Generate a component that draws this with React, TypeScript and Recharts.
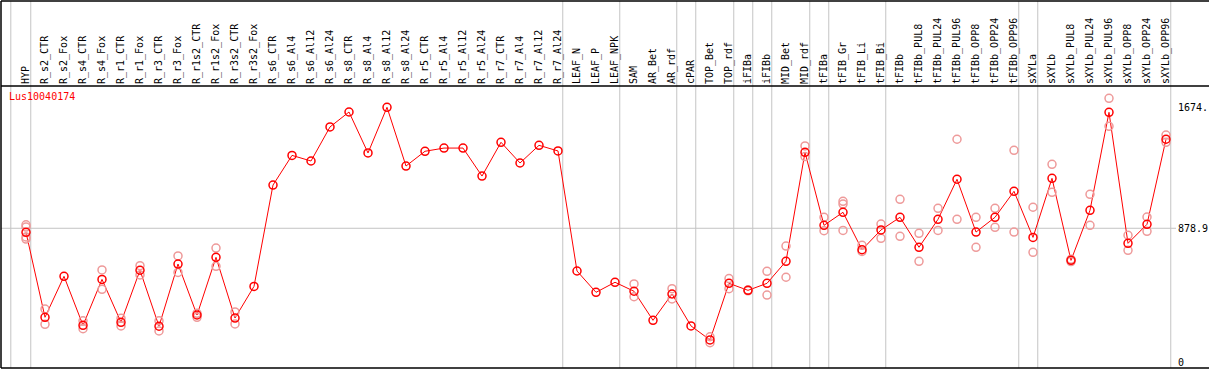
import { ComposedChart, Line, Scatter, XAxis, YAxis, ReferenceLine } from "recharts";

const title = "Lus10040174";

const categories = [
  "HYP",
  "R_s2_CTR", "R_s2_Fox", "R_s4_CTR", "R_s4_Fox", "R_r1_CTR", "R_r1_Fox", "R_r3_CTR", "R_r3_Fox",
  "R_r1s2_CTR", "R_r1s2_Fox", "R_r3s2_CTR", "R_r3s2_Fox",
  "R_s6_CTR", "R_s6_Al4", "R_s6_Al12", "R_s6_Al24",
  "R_s8_CTR", "R_s8_Al4", "R_s8_Al12", "R_s8_Al24",
  "R_r5_CTR", "R_r5_Al4", "R_r5_Al12", "R_r5_Al24",
  "R_r7_CTR", "R_r7_Al4", "R_r7_Al12", "R_r7_Al24",
  "LEAF_N", "LEAF_P", "LEAF_NPK",
  "SAM", "AR_Bet", "AR_rdf",
  "cPAR",
  "TOP_Bet", "TOP_rdf",
  "iFIBa",
  "iFIBb",
  "MID_Bet", "MID_rdf",
  "tFIBa",
  "tFIB_Gr", "tFIB_Li", "tFIB_Bi",
  "tFIBb", "tFIBb_PUL8", "tFIBb_PUL24", "tFIBb_PUL96", "tFIBb_OPP8", "tFIBb_OPP24", "tFIBb_OPP96",
  "sXYLa",
  "sXYLb", "sXYLb_PUL8", "sXYLb_PUL24", "sXYLb_PUL96", "sXYLb_OPP8", "sXYLb_OPP24", "sXYLb_OPP96",
];

// mean expression per sample
const means = [
  852,
  294, 563, 241, 543, 261, 603, 235, 644,
  309, 688, 289, 497,
  1163, 1358, 1321, 1545,
  1643, 1374, 1674, 1288,
  1385, 1406, 1406, 1222,
  1444, 1308, 1424, 1387,
  598, 458, 524,
  465, 274, 447,
  237,
  145, 517,
  471,
  517,
  662, 1378,
  898,
  984, 738, 868,
  951, 754, 938, 1201, 854, 951, 1122,
  819,
  1207, 668, 997, 1641, 780, 905, 1464,
];

// individual replicates (null = not shown)
const repA = [
  902,
  348, null, 271, 605, 287, 633, 271, 697,
  320, 749, 329, null,
  null, null, null, null,
  null, null, null, null,
  null, null, null, null,
  null, null, null, null,
  null, null, null,
  513, null, 482,
  null,
  166, 548,
  474,
  596,
  762, 1420,
  951,
  1056, 767, 907,
  1069, 846, 1010, 1464, 951, 1010, 1391,
  1017,
  1299, 675, 1102, 1733, 833, 953, 1492,
];

const repB = [
  808,
  248, null, 219, 478, 237, 572, 204, 589,
  294, 629, 250, null,
  null, null, null, null,
  null, null, null, null,
  null, null, null, null,
  null, null, null, null,
  null, null, null,
  429, null, 414,
  null,
  127, 482,
  468,
  440,
  557, 1350,
  863,
  865, 727, 813,
  826, 662, 865, 938, 754, 885, 854,
  721,
  1115, 660, 898, 1549, 734, 859, 1444,
];

const repC = [
  887,
  null, null, null, null, null, null, null, null,
  null, null, null, null,
  null, null, null, null,
  null, null, null, null,
  null, null, null, null,
  null, null, null, null,
  null, null, null,
  null, null, null,
  null,
  null, null,
  null,
  null,
  null, null,
  null,
  1038, null, null,
  null, null, null, null, null, null, null,
  null,
  null, null, null, null, null, null, null,
];

const repD = [822];

// number of samples in each block between grey separators
const groupSizes = [1, 28, 3, 3, 1, 2, 1, 1, 2, 1, 3, 7, 1, 7];

const yTicks = [0, 878.9, 1674];
const yTickLabels = ["0", "878.9", "1674."];

const X_DOMAIN: [number, number] = [-1.316, 60.526];
const Y_DOMAIN: [number, number] = [-39.4, 2372.6];
const HEADER_RULE = 1814;
const X_PAGE_END = 62.3;

const FONT = "'DejaVu Sans Mono', monospace";

const meanData = categories.map((name, i) => ({ x: i, y: means[i], name }));
const repData = [repA, repB, repC, repD].flatMap((reps) =>
  reps.map((v, i) => ({ x: i, y: v })).filter((d) => d.y !== null && d.y !== undefined)
);

const separators: number[] = [-0.8];
groupSizes.reduce((acc, size) => {
  const end = acc + size;
  separators.push(end - 1 + 0.25);
  return end;
}, 0);

function CategoryTick(props: any) {
  const { x, payload } = props;
  return (
    <text
      transform={`translate(${Math.round(x) + 3},84) rotate(-90)`}
      fontFamily={FONT}
      fontSize={10}
      fill="#000"
      textAnchor="start"
    >
      {categories[payload.value]}
    </text>
  );
}

function ValueTick(props: any) {
  const { x, y, index } = props;
  return (
    <text x={x} y={y} dy={3.5} fontFamily={FONT} fontSize={10} fill="#000" textAnchor="start">
      {yTickLabels[index]}
    </text>
  );
}

const renderRep = (p: any) => (
  <circle cx={p.cx} cy={p.cy} r={4} fill="none" stroke="#ee9a9a" strokeWidth={1.5} />
);

export default function App() {
  return (
    <div style={{ position: "absolute", left: 0, top: 0, width: 1209, height: 370, background: "#fff" }}>
      <ComposedChart width={1209} height={370} margin={{ top: 0, right: 0, bottom: 2, left: 1 }}>
        <XAxis
          type="number"
          dataKey="x"
          domain={X_DOMAIN}
          allowDataOverflow
          orientation="top"
          height={1}
          ticks={categories.map((_, i) => i)}
          interval={0}
          axisLine={false}
          tickLine={false}
          tick={<CategoryTick />}
        />
        <YAxis
          type="number"
          dataKey="y"
          domain={Y_DOMAIN}
          allowDataOverflow
          orientation="right"
          width={33}
          ticks={yTicks}
          interval={0}
          axisLine={false}
          tickLine={false}
          tickSize={0}
          tickMargin={2}
          tick={<ValueTick />}
        />
        {separators.map((s) => (
          <ReferenceLine key={s} x={s} stroke="#c4c4c4" strokeWidth={1} />
        ))}
        <ReferenceLine y={878.9} stroke="#c4c4c4" strokeWidth={1} />
        <ReferenceLine x={X_DOMAIN[0]} stroke="#000" strokeWidth={1.5} />
        {[HEADER_RULE, Y_DOMAIN[0], Y_DOMAIN[1]].map((v) => (
          <ReferenceLine
            key={v}
            ifOverflow="visible"
            segment={[{ x: X_DOMAIN[0], y: v }, { x: X_PAGE_END, y: v }]}
            stroke="#000"
            strokeWidth={1.5}
          />
        ))}
        <Scatter data={repData} dataKey="y" shape={renderRep} isAnimationActive={false} />
        <Line
          data={meanData}
          dataKey="y"
          type="linear"
          stroke="#ff0000"
          strokeWidth={1}
          dot={{ r: 4, stroke: "#ff0000", strokeWidth: 1.5, fill: "none" }}
          activeDot={false}
          isAnimationActive={false}
        />
      </ComposedChart>
      <div
        style={{
          position: "absolute",
          left: 9,
          top: 91,
          fontFamily: FONT,
          fontSize: 10,
          lineHeight: "12px",
          color: "#ff0000",
        }}
      >
        {title}
      </div>
    </div>
  );
}
